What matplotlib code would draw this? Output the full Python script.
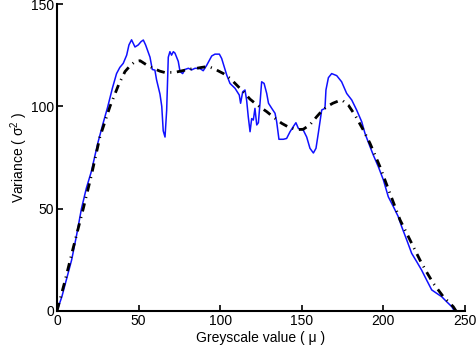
import matplotlib
matplotlib.use("Agg")
import matplotlib.pyplot as plt

mu_meas = [0, 3, 6, 9, 12, 15, 18, 21, 25, 28, 31, 34, 36.5, 38.5, 40.6, 42.7, 44.1,
           45.7, 47.8, 49.8, 51.5, 52.9, 54.3, 57, 58.4, 60, 61, 63.1, 64.2, 65.1,
           66.2, 67.2, 68.2, 69.2, 70.2, 71.3, 72.3, 74.3, 75.4, 77, 78.4, 80.5, 82.5,
           84.6, 87.6, 89.6, 91.7, 94.8, 96.8, 99.5, 100.9, 104, 106, 109.1, 111.7,
           112.5, 113.8, 115.2, 116.2, 117.2, 118.3, 119.3, 120.3, 121.3, 122.4, 123.4,
           124.4, 125.4, 126.9, 128.5, 129.6, 131.6, 133.6, 134.6, 136, 138.7, 140.7,
           142.8, 144.8, 146.4, 147.9, 150.9, 153, 155, 157.1, 158.7, 160.1, 162.2,
           164.2, 164.8, 166.3, 168.3, 171.4, 174.4, 177.5, 180.6, 183.6, 186.7, 188.7,
           191.8, 193.8, 196.9, 200, 203, 206.1, 209.1, 211.2, 214.3, 217.3, 220.4,
           223.4, 226.5, 229.6, 232.7, 235.7, 238.8, 241.9, 243.5, 250]
var_meas = [0, 7, 16, 25, 37, 50, 60, 68, 82, 91, 99.5, 109, 116, 119, 121, 125, 130,
            132.5, 129, 130, 131.6, 132.4, 130, 124, 118, 117.7, 113, 106, 100, 88,
            85, 98, 124, 126.7, 125, 126.7, 126, 122, 117, 116, 118, 118.6, 117.8,
            118.6, 118.5, 117.4, 120, 124.6, 125.5, 125.5, 123.4, 115.3, 111.2, 108.8,
            105.5, 101.5, 107.1, 108, 103, 94.9, 87.6, 94, 93.3, 99, 90.9, 92,
            101.5, 112, 111.2, 106.3, 101.5, 99, 96.6, 92.5, 83.9, 83.9, 84.3,
            87.6, 90.1, 92, 89.2, 88.4, 85, 79.5, 77.2, 79.5, 86.8, 98.2,
            99, 108, 114, 116, 115, 112, 106.3, 103.1, 98.2, 92.5, 86.8,
            80.3, 76.2, 70.5, 64, 55.8, 51, 46.1, 41.2, 34.7, 28.2, 24.1,
            20, 15.1, 10.3, 8.6, 7, 4.5, 2.1, 0, 0]

# Smooth fitted curve (black dash-dot)
mu_fit = [0, 5, 10, 16.1, 21, 26.3, 32.5, 34.5, 38, 41.7, 45, 47.8, 50.9, 55, 59, 63,
          66.2, 69.2, 72.3, 77.4, 81.5, 85.6, 88.5, 91.7, 94.8, 97.9, 102, 106, 110,
          114.2, 118.3, 122.4, 128.5, 133, 137.7, 142, 146.9, 150.9, 155, 159.1, 162,
          165.3, 169, 172.4, 175, 178.5, 182.6, 187.7, 191.8, 197.9, 204, 210.2,
          216.3, 222.4, 226.5, 230.6, 236.7, 242.8, 244.5]
var_fit = [0, 15, 31, 50, 66, 85, 100, 104, 111, 117, 120, 121.8, 122.3, 120.2, 118.6,
           117.2, 116.5, 116.6, 116.6, 117.5, 118.2, 118.6, 119, 119.4, 118.8, 117.7,
           116, 113.7, 110.5, 107.1, 103.5, 100.8, 97.4, 94.5, 91.7, 89.8, 88.6, 88.8,
           91, 94.9, 97.5, 99.8, 101.5, 102.6, 102.8, 100.6, 95.7, 88.4, 81.9, 70.5,
           57.5, 44.5, 34.7, 24.9, 19, 13.5, 7, 2.1, 0]

x_ticks = [0, 50, 100, 150, 200, 250]
y_ticks = [0, 50, 100, 150]

plt.rcParams["font.family"] = ["Liberation Sans", "DejaVu Sans"]
plt.rcParams["mathtext.fontset"] = "custom"
plt.rcParams["mathtext.rm"] = "Liberation Sans"
plt.rcParams["mathtext.default"] = "regular"

fig = plt.figure(figsize=(4.76, 3.54), dpi=100)
ax = fig.add_axes([0.1197, 0.1215, 0.8572, 0.8672])

ax.plot(mu_meas, var_meas, color="#1010ff", lw=1.1)
ax.plot(mu_fit, var_fit, color="black", lw=2.0, linestyle=(0, (3, 2, 0.4, 2)))

ax.set_xlim(0, 250)
ax.set_ylim(0, 150)
ax.set_xticks(x_ticks)
ax.set_yticks(y_ticks)
ax.tick_params(direction="in", length=4, width=1.2, labelsize=10, pad=2)
for side in ["top", "right"]:
    ax.spines[side].set_visible(False)
for side in ["left", "bottom"]:
    ax.spines[side].set_linewidth(1.5)

ax.set_xlabel("Greyscale value ( μ )", fontsize=10, labelpad=2)
ax.set_ylabel(r"Variance ( $\sigma^2$ )", fontsize=10, labelpad=1)

fig.savefig("out.png", dpi=100)
